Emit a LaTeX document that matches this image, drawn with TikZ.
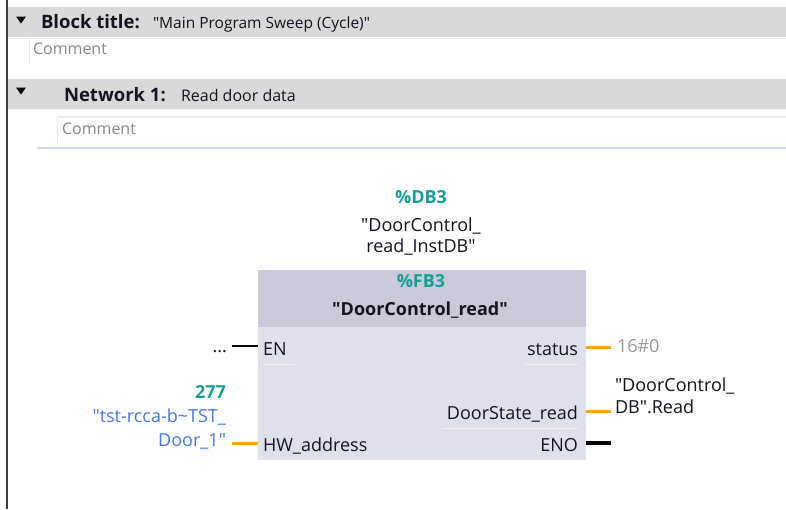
\documentclass[tikz,border=0pt]{standalone}
\usepackage{fontspec}
\setmainfont{Open Sans}
\newcommand{\dq}{\textquotedbl}
\definecolor{hdrgray}{RGB}{217,217,217}
\definecolor{sepgray}{RGB}{236,236,236}
\definecolor{bluesep}{RGB}{205,212,235}
\definecolor{leftbarc}{RGB}{60,62,72}
\definecolor{cmtgray}{RGB}{135,135,135}
\definecolor{fbbody}{RGB}{223,224,233}
\definecolor{fbhead}{RGB}{201,202,215}
\definecolor{tealc}{RGB}{22,158,150}
\definecolor{bluec}{RGB}{72,118,228}
\definecolor{orangec}{RGB}{255,165,0}
\definecolor{constgray}{RGB}{150,150,150}
\definecolor{txt}{RGB}{20,20,30}
\tikzset{
  every node/.style={inner sep=0pt, outer sep=0pt, text=txt},
  big/.style={font=\fontsize{18.5}{20}\selectfont\bfseries},
  smallbt/.style={font=\fontsize{15.5}{17}\selectfont},
  smallnw/.style={font=\fontsize{16}{18}\selectfont},
  cmt/.style={font=\fontsize{16}{18}\selectfont, text=cmtgray},
  lab/.style={font=\fontsize{18}{20}\selectfont},
  labb/.style={font=\fontsize{18}{20}\selectfont\bfseries},
  teal/.style={font=\fontsize{18}{20}\selectfont\bfseries, text=tealc},
  wireblack/.style={draw=black, line width=2.4pt},
  wireblackthick/.style={draw=black, line width=3.4pt},
  wireorange/.style={draw=orangec, line width=3pt},
  fbbox/.style={fill=fbbody, draw=none, minimum width=328pt, minimum height=190pt},
  tri/.style={fill=black},
  pinsep/.style={draw=white, line width=1pt, opacity=0.5},
}
\begin{document}
\begin{tikzpicture}[x=1pt,y=-1pt]
\useasboundingbox (0,0) rectangle (786,509);
\fill[white] (0,0) rectangle (786,509);
% left bar
\draw[leftbarc, line width=2pt] (6.5,0) -- (6.5,509);
% block title header
\fill[hdrgray] (8,7) rectangle (786,37);
\draw[sepgray, line width=1.5pt] (8,38.5) -- (786,38.5);
\fill[tri] (16,16.5) -- (26,16.5) -- (21,23.5) -- cycle;
\node[big, anchor=base west] (bt) at (41,28) {Block title:};
\node[smallbt, anchor=base west] (btv) at (153,28) {\dq Main Program Sweep (Cycle)\dq};
\draw[sepgray, line width=1pt] (29,39) -- (29,65);
\node[cmt, anchor=base west] (c1) at (33,54) {Comment};
% network header
\fill[hdrgray] (8,79) rectangle (786,109);
\fill[tri] (16,87.5) -- (26,87.5) -- (21,94.5) -- cycle;
\node[big, anchor=base west] (nw) at (64,101) {Network 1:};
\node[smallnw, anchor=base west] (nwv) at (181,101) {Read door data};
\draw[sepgray, line width=2pt] (57,117) -- (786,117);
\draw[sepgray, line width=1pt] (57,117) -- (57,144);
\node[cmt, anchor=base west] (c2) at (62,134) {Comment};
\draw[bluesep, line width=1.5pt] (37,148) -- (786,148);
% instance DB
\node[teal, anchor=base] (db) at (421,203) {\%DB3};
\node[lab, anchor=base] (dbn1) at (421,231) {\dq DoorControl\_};
\node[lab, anchor=base] (dbn2) at (421,252) {read\_InstDB\dq};
% function block
\node[fbbox] (fb) at (422,365) {};
\fill[fbhead] (258,270) rectangle (586,327);
\node[teal, anchor=base] (fbn) at (421,287) {\%FB3};
\node[labb, anchor=base] (fbt) at (420,315) {\dq DoorControl\_read\dq};
% pins left
\node[lab, anchor=base west] (pEN) at (263,355) {EN};
\node[lab, anchor=base west] (pHW) at (263,451) {HW\_address};
\draw[pinsep] (263,364) -- (295,364);
% pins right
\node[lab, anchor=base east] (pST) at (578,355) {status};
\node[lab, anchor=base east] (pDS) at (578,419) {DoorState\_read};
\node[lab, anchor=base east] (pENO) at (578,451) {ENO};
\draw[pinsep] (525,364) -- (578,364);
\draw[pinsep] (442,428) -- (578,428);
% wires
\coordinate (enIn) at (258,346);
\coordinate (enOut) at (232,346);
\coordinate (hwIn) at (258,443);
\coordinate (hwOut) at (232,443);
\coordinate (stIn) at (586,347);
\coordinate (stOut) at (611,347);
\coordinate (dsIn) at (586,411);
\coordinate (dsOut) at (611,411);
\coordinate (enoIn) at (586,443);
\coordinate (enoOut) at (611,443);
\draw[wireblack] (enOut) -- (enIn);
\draw[wireorange] (hwOut) -- (hwIn);
\draw[wireorange] (stIn) -- (stOut);
\draw[wireorange] (dsIn) -- (dsOut);
\draw[wireblackthick] (enoIn) -- (enoOut);
% operands left
\node[lab, anchor=base east] (dots) at (227,352) {...};
\node[teal, anchor=base east] (n277) at (226,398) {277};
\node[lab, anchor=base east, text=bluec] (hw1) at (226,422) {\dq tst-rcca-b\textasciitilde TST\_};
\node[lab, anchor=base east, text=bluec] (hw2) at (226,446) {Door\_1\dq};
% operands right
\node[lab, anchor=base west, text=constgray] (c16) at (617,352) {16\#0};
\node[lab, anchor=base west] (ds1) at (615,391) {\dq DoorControl\_};
\node[lab, anchor=base west] (ds2) at (615,413) {DB\dq.Read};
\end{tikzpicture}
\end{document}
